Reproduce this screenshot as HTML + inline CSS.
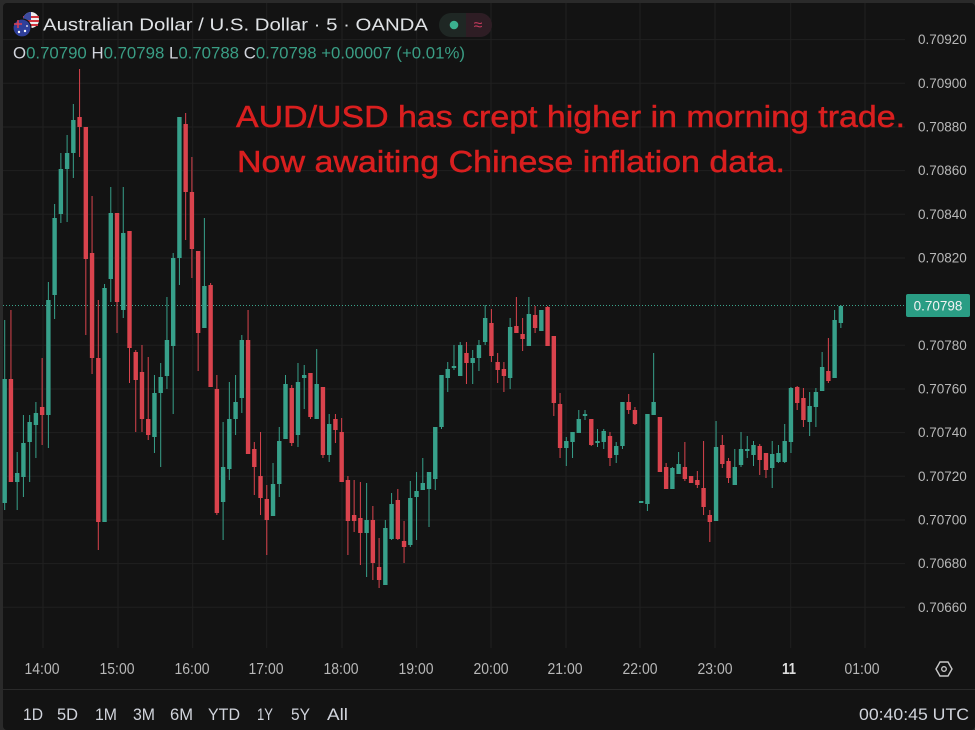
<!DOCTYPE html>
<html><head><meta charset="utf-8"><style>
html,body{margin:0;padding:0;background:#131313;}
svg{display:block;}
text{font-family:"Liberation Sans",sans-serif;}
.u rect{fill:#37a08a}
.d rect{fill:#d9434d}
</style></head><body>
<svg width="975" height="730" viewBox="0 0 975 730" xmlns="http://www.w3.org/2000/svg">
<rect x="0" y="0" width="975" height="730" fill="#2a2a2a"/>
<rect x="3" y="3" width="972" height="727" rx="4" fill="#131313"/>
<!-- vertical grid -->
<g stroke="#202020" stroke-width="1">
<line x1="43" y1="3" x2="43" y2="648"/><line x1="118" y1="3" x2="118" y2="648"/><line x1="192.7" y1="3" x2="192.7" y2="648"/><line x1="266.7" y1="3" x2="266.7" y2="648"/><line x1="342" y1="3" x2="342" y2="648"/><line x1="416.7" y1="3" x2="416.7" y2="648"/><line x1="491" y1="3" x2="491" y2="648"/><line x1="566" y1="3" x2="566" y2="648"/><line x1="640" y1="3" x2="640" y2="648"/><line x1="715" y1="3" x2="715" y2="648"/><line x1="790.7" y1="3" x2="790.7" y2="648"/><line x1="865" y1="3" x2="865" y2="648"/>
</g>
<!-- horizontal grid -->
<g stroke="#202020" stroke-width="1">
<line x1="3" y1="39.6" x2="905" y2="39.6"/><line x1="3" y1="83.3" x2="905" y2="83.3"/><line x1="3" y1="127" x2="905" y2="127"/><line x1="3" y1="170.6" x2="905" y2="170.6"/><line x1="3" y1="214.3" x2="905" y2="214.3"/><line x1="3" y1="258" x2="905" y2="258"/><line x1="3" y1="345.3" x2="905" y2="345.3"/><line x1="3" y1="389" x2="905" y2="389"/><line x1="3" y1="432.6" x2="905" y2="432.6"/><line x1="3" y1="476.3" x2="905" y2="476.3"/><line x1="3" y1="520" x2="905" y2="520"/><line x1="3" y1="563.6" x2="905" y2="563.6"/><line x1="3" y1="607.3" x2="905" y2="607.3"/>
</g>
<!-- current price line -->
<line x1="3" y1="305.5" x2="905" y2="305.5" stroke="#3aa58c" stroke-width="1" stroke-dasharray="1 2"/>

<!-- candles -->
<g>
<g class="u" transform="translate(4.7,0)"><rect x="-0.5" y="320" width="1" height="190"/><rect x="-2.2" y="379" width="4.4" height="124"/></g>
<g class="d" transform="translate(10.94,0)"><rect x="-0.5" y="310" width="1" height="172"/><rect x="-2.2" y="379" width="4.4" height="103"/></g>
<g class="u" transform="translate(17.18,0)"><rect x="-0.5" y="452" width="1" height="58"/><rect x="-2.2" y="473" width="4.4" height="9"/></g>
<g class="u" transform="translate(23.42,0)"><rect x="-0.5" y="415" width="1" height="82"/><rect x="-2.2" y="443" width="4.4" height="34"/></g>
<g class="u" transform="translate(29.66,0)"><rect x="-0.5" y="415" width="1" height="67"/><rect x="-2.2" y="422" width="4.4" height="20"/></g>
<g class="u" transform="translate(35.9,0)"><rect x="-0.5" y="402" width="1" height="56"/><rect x="-2.2" y="413" width="4.4" height="12"/></g>
<g class="d" transform="translate(42.14,0)"><rect x="-0.5" y="358" width="1" height="87"/><rect x="-2.2" y="407" width="4.4" height="8"/></g>
<g class="u" transform="translate(48.38,0)"><rect x="-0.5" y="282" width="1" height="166"/><rect x="-2.2" y="300" width="4.4" height="115"/></g>
<g class="u" transform="translate(54.62,0)"><rect x="-0.5" y="204" width="1" height="115"/><rect x="-2.2" y="218" width="4.4" height="77"/></g>
<g class="u" transform="translate(60.86,0)"><rect x="-0.5" y="153" width="1" height="70"/><rect x="-2.2" y="169" width="4.4" height="45"/></g>
<g class="u" transform="translate(67.1,0)"><rect x="-0.5" y="135" width="1" height="87"/><rect x="-2.2" y="153" width="4.4" height="16"/></g>
<g class="u" transform="translate(73.34,0)"><rect x="-0.5" y="104" width="1" height="74"/><rect x="-2.2" y="120" width="4.4" height="33"/></g>
<g class="d" transform="translate(79.58,0)"><rect x="-0.5" y="69" width="1" height="88"/><rect x="-2.2" y="117" width="4.4" height="10"/></g>
<g class="d" transform="translate(85.82,0)"><rect x="-0.5" y="127" width="1" height="208"/><rect x="-2.2" y="127" width="4.4" height="132"/></g>
<g class="d" transform="translate(92.06,0)"><rect x="-0.5" y="196" width="1" height="178"/><rect x="-2.2" y="253" width="4.4" height="105"/></g>
<g class="d" transform="translate(98.3,0)"><rect x="-0.5" y="300" width="1" height="250"/><rect x="-2.2" y="358" width="4.4" height="164"/></g>
<g class="u" transform="translate(104.54,0)"><rect x="-0.5" y="284" width="1" height="238"/><rect x="-2.2" y="288" width="4.4" height="234"/></g>
<g class="u" transform="translate(110.78,0)"><rect x="-0.5" y="187" width="1" height="115"/><rect x="-2.2" y="213" width="4.4" height="66"/></g>
<g class="d" transform="translate(117.02,0)"><rect x="-0.5" y="213" width="1" height="120"/><rect x="-2.2" y="213" width="4.4" height="89"/></g>
<g class="u" transform="translate(123.26,0)"><rect x="-0.5" y="187" width="1" height="131"/><rect x="-2.2" y="233" width="4.4" height="77"/></g>
<g class="d" transform="translate(129.5,0)"><rect x="-0.5" y="231" width="1" height="152"/><rect x="-2.2" y="231" width="4.4" height="117"/></g>
<g class="d" transform="translate(135.74,0)"><rect x="-0.5" y="350" width="1" height="82"/><rect x="-2.2" y="352" width="4.4" height="28"/></g>
<g class="d" transform="translate(141.98,0)"><rect x="-0.5" y="345" width="1" height="87"/><rect x="-2.2" y="372" width="4.4" height="47"/></g>
<g class="d" transform="translate(148.22,0)"><rect x="-0.5" y="357" width="1" height="83"/><rect x="-2.2" y="419" width="4.4" height="16"/></g>
<g class="u" transform="translate(154.46,0)"><rect x="-0.5" y="375" width="1" height="78"/><rect x="-2.2" y="393" width="4.4" height="44"/></g>
<g class="u" transform="translate(160.7,0)"><rect x="-0.5" y="363" width="1" height="104"/><rect x="-2.2" y="377" width="4.4" height="16"/></g>
<g class="u" transform="translate(166.94,0)"><rect x="-0.5" y="297" width="1" height="92"/><rect x="-2.2" y="340" width="4.4" height="36"/></g>
<g class="u" transform="translate(173.18,0)"><rect x="-0.5" y="253" width="1" height="161"/><rect x="-2.2" y="258" width="4.4" height="88"/></g>
<g class="u" transform="translate(179.42,0)"><rect x="-0.5" y="117" width="1" height="168"/><rect x="-2.2" y="117" width="4.4" height="141"/></g>
<g class="d" transform="translate(185.66,0)"><rect x="-0.5" y="113" width="1" height="127"/><rect x="-2.2" y="124" width="4.4" height="68"/></g>
<g class="d" transform="translate(191.9,0)"><rect x="-0.5" y="157" width="1" height="121"/><rect x="-2.2" y="192" width="4.4" height="57"/></g>
<g class="d" transform="translate(198.14,0)"><rect x="-0.5" y="251" width="1" height="120"/><rect x="-2.2" y="251" width="4.4" height="82"/></g>
<g class="u" transform="translate(204.38,0)"><rect x="-0.5" y="218" width="1" height="110"/><rect x="-2.2" y="286" width="4.4" height="42"/></g>
<g class="d" transform="translate(210.62,0)"><rect x="-0.5" y="283" width="1" height="104"/><rect x="-2.2" y="285" width="4.4" height="102"/></g>
<g class="d" transform="translate(216.86,0)"><rect x="-0.5" y="375" width="1" height="140"/><rect x="-2.2" y="389" width="4.4" height="124"/></g>
<g class="u" transform="translate(223.1,0)"><rect x="-0.5" y="422" width="1" height="118"/><rect x="-2.2" y="467" width="4.4" height="35"/></g>
<g class="u" transform="translate(229.34,0)"><rect x="-0.5" y="382" width="1" height="98"/><rect x="-2.2" y="419" width="4.4" height="50"/></g>
<g class="u" transform="translate(235.58,0)"><rect x="-0.5" y="375" width="1" height="60"/><rect x="-2.2" y="402" width="4.4" height="17"/></g>
<g class="u" transform="translate(241.82,0)"><rect x="-0.5" y="335" width="1" height="78"/><rect x="-2.2" y="340" width="4.4" height="58"/></g>
<g class="d" transform="translate(248.06,0)"><rect x="-0.5" y="310" width="1" height="144"/><rect x="-2.2" y="340" width="4.4" height="114"/></g>
<g class="d" transform="translate(254.3,0)"><rect x="-0.5" y="442" width="1" height="53"/><rect x="-2.2" y="449" width="4.4" height="18"/></g>
<g class="d" transform="translate(260.54,0)"><rect x="-0.5" y="432" width="1" height="83"/><rect x="-2.2" y="476" width="4.4" height="22"/></g>
<g class="d" transform="translate(266.78,0)"><rect x="-0.5" y="485" width="1" height="70"/><rect x="-2.2" y="499" width="4.4" height="21"/></g>
<g class="u" transform="translate(273.02,0)"><rect x="-0.5" y="463" width="1" height="53"/><rect x="-2.2" y="484" width="4.4" height="32"/></g>
<g class="u" transform="translate(279.26,0)"><rect x="-0.5" y="427" width="1" height="70"/><rect x="-2.2" y="441" width="4.4" height="43"/></g>
<g class="u" transform="translate(285.5,0)"><rect x="-0.5" y="375" width="1" height="64"/><rect x="-2.2" y="384" width="4.4" height="55"/></g>
<g class="d" transform="translate(291.74,0)"><rect x="-0.5" y="385" width="1" height="61"/><rect x="-2.2" y="388" width="4.4" height="55"/></g>
<g class="u" transform="translate(297.98,0)"><rect x="-0.5" y="363" width="1" height="84"/><rect x="-2.2" y="382" width="4.4" height="53"/></g>
<g class="u" transform="translate(304.22,0)"><rect x="-0.5" y="365" width="1" height="44"/><rect x="-2.2" y="375" width="4.4" height="3"/></g>
<g class="d" transform="translate(310.46,0)"><rect x="-0.5" y="373" width="1" height="46"/><rect x="-2.2" y="373" width="4.4" height="44"/></g>
<g class="u" transform="translate(316.7,0)"><rect x="-0.5" y="349" width="1" height="70"/><rect x="-2.2" y="384" width="4.4" height="35"/></g>
<g class="d" transform="translate(322.94,0)"><rect x="-0.5" y="387" width="1" height="71"/><rect x="-2.2" y="387" width="4.4" height="68"/></g>
<g class="u" transform="translate(329.18,0)"><rect x="-0.5" y="414" width="1" height="48"/><rect x="-2.2" y="424" width="4.4" height="31"/></g>
<g class="d" transform="translate(335.42,0)"><rect x="-0.5" y="414" width="1" height="29"/><rect x="-2.2" y="419" width="4.4" height="11"/></g>
<g class="d" transform="translate(341.66,0)"><rect x="-0.5" y="418" width="1" height="64"/><rect x="-2.2" y="432" width="4.4" height="50"/></g>
<g class="d" transform="translate(347.9,0)"><rect x="-0.5" y="476" width="1" height="79"/><rect x="-2.2" y="480" width="4.4" height="41"/></g>
<g class="d" transform="translate(354.14,0)"><rect x="-0.5" y="480" width="1" height="52"/><rect x="-2.2" y="515" width="4.4" height="6"/></g>
<g class="d" transform="translate(360.38,0)"><rect x="-0.5" y="482" width="1" height="83"/><rect x="-2.2" y="518" width="4.4" height="15"/></g>
<g class="u" transform="translate(366.62,0)"><rect x="-0.5" y="483" width="1" height="94"/><rect x="-2.2" y="520" width="4.4" height="13"/></g>
<g class="d" transform="translate(372.86,0)"><rect x="-0.5" y="506" width="1" height="74"/><rect x="-2.2" y="520" width="4.4" height="43"/></g>
<g class="d" transform="translate(379.1,0)"><rect x="-0.5" y="538" width="1" height="50"/><rect x="-2.2" y="567" width="4.4" height="13"/></g>
<g class="u" transform="translate(385.34,0)"><rect x="-0.5" y="520" width="1" height="65"/><rect x="-2.2" y="528" width="4.4" height="57"/></g>
<g class="u" transform="translate(391.58,0)"><rect x="-0.5" y="493" width="1" height="47"/><rect x="-2.2" y="504" width="4.4" height="35"/></g>
<g class="d" transform="translate(397.82,0)"><rect x="-0.5" y="489" width="1" height="51"/><rect x="-2.2" y="500" width="4.4" height="39"/></g>
<g class="d" transform="translate(404.06,0)"><rect x="-0.5" y="521" width="1" height="42"/><rect x="-2.2" y="541" width="4.4" height="6"/></g>
<g class="u" transform="translate(410.3,0)"><rect x="-0.5" y="481" width="1" height="66"/><rect x="-2.2" y="498" width="4.4" height="47"/></g>
<g class="u" transform="translate(416.54,0)"><rect x="-0.5" y="472" width="1" height="68"/><rect x="-2.2" y="491" width="4.4" height="6"/></g>
<g class="u" transform="translate(422.78,0)"><rect x="-0.5" y="458" width="1" height="32"/><rect x="-2.2" y="483" width="4.4" height="7"/></g>
<g class="u" transform="translate(429.02,0)"><rect x="-0.5" y="472" width="1" height="55"/><rect x="-2.2" y="472" width="4.4" height="17"/></g>
<g class="u" transform="translate(435.26,0)"><rect x="-0.5" y="427" width="1" height="63"/><rect x="-2.2" y="427" width="4.4" height="52"/></g>
<g class="u" transform="translate(441.5,0)"><rect x="-0.5" y="375" width="1" height="54"/><rect x="-2.2" y="375" width="4.4" height="52"/></g>
<g class="u" transform="translate(447.74,0)"><rect x="-0.5" y="362" width="1" height="30"/><rect x="-2.2" y="369" width="4.4" height="9"/></g>
<g class="u" transform="translate(453.98,0)"><rect x="-0.5" y="345" width="1" height="25"/><rect x="-2.2" y="366" width="4.4" height="2"/></g>
<g class="u" transform="translate(460.22,0)"><rect x="-0.5" y="342" width="1" height="34"/><rect x="-2.2" y="345" width="4.4" height="31"/></g>
<g class="d" transform="translate(466.46,0)"><rect x="-0.5" y="342" width="1" height="42"/><rect x="-2.2" y="353" width="4.4" height="10"/></g>
<g class="u" transform="translate(472.7,0)"><rect x="-0.5" y="350" width="1" height="34"/><rect x="-2.2" y="358" width="4.4" height="5"/></g>
<g class="u" transform="translate(478.94,0)"><rect x="-0.5" y="340" width="1" height="31"/><rect x="-2.2" y="345" width="4.4" height="13"/></g>
<g class="u" transform="translate(485.18,0)"><rect x="-0.5" y="305" width="1" height="40"/><rect x="-2.2" y="318" width="4.4" height="24"/></g>
<g class="d" transform="translate(491.42,0)"><rect x="-0.5" y="309" width="1" height="53"/><rect x="-2.2" y="323" width="4.4" height="33"/></g>
<g class="d" transform="translate(497.66,0)"><rect x="-0.5" y="353" width="1" height="30"/><rect x="-2.2" y="362" width="4.4" height="8"/></g>
<g class="d" transform="translate(503.9,0)"><rect x="-0.5" y="362" width="1" height="30"/><rect x="-2.2" y="369" width="4.4" height="7"/></g>
<g class="u" transform="translate(510.14,0)"><rect x="-0.5" y="318" width="1" height="71"/><rect x="-2.2" y="327" width="4.4" height="51"/></g>
<g class="d" transform="translate(516.38,0)"><rect x="-0.5" y="297" width="1" height="36"/><rect x="-2.2" y="326" width="4.4" height="7"/></g>
<g class="d" transform="translate(522.62,0)"><rect x="-0.5" y="318" width="1" height="33"/><rect x="-2.2" y="334" width="4.4" height="5"/></g>
<g class="u" transform="translate(528.86,0)"><rect x="-0.5" y="297" width="1" height="49"/><rect x="-2.2" y="314" width="4.4" height="32"/></g>
<g class="d" transform="translate(535.1,0)"><rect x="-0.5" y="306" width="1" height="27"/><rect x="-2.2" y="315" width="4.4" height="13"/></g>
<g class="u" transform="translate(541.34,0)"><rect x="-0.5" y="310" width="1" height="21"/><rect x="-2.2" y="310" width="4.4" height="21"/></g>
<g class="d" transform="translate(547.58,0)"><rect x="-0.5" y="306" width="1" height="40"/><rect x="-2.2" y="307" width="4.4" height="39"/></g>
<g class="d" transform="translate(553.82,0)"><rect x="-0.5" y="336" width="1" height="80"/><rect x="-2.2" y="336" width="4.4" height="67"/></g>
<g class="d" transform="translate(560.06,0)"><rect x="-0.5" y="393" width="1" height="65"/><rect x="-2.2" y="404" width="4.4" height="44"/></g>
<g class="u" transform="translate(566.3,0)"><rect x="-0.5" y="437" width="1" height="29"/><rect x="-2.2" y="441" width="4.4" height="7"/></g>
<g class="u" transform="translate(572.54,0)"><rect x="-0.5" y="432" width="1" height="26"/><rect x="-2.2" y="432" width="4.4" height="10"/></g>
<g class="u" transform="translate(578.78,0)"><rect x="-0.5" y="410" width="1" height="23"/><rect x="-2.2" y="419" width="4.4" height="14"/></g>
<g class="u" transform="translate(585.02,0)"><rect x="-0.5" y="410" width="1" height="10"/><rect x="-2.2" y="414" width="4.4" height="2"/></g>
<g class="d" transform="translate(591.26,0)"><rect x="-0.5" y="419" width="1" height="27"/><rect x="-2.2" y="419" width="4.4" height="26"/></g>
<g class="u" transform="translate(597.5,0)"><rect x="-0.5" y="429" width="1" height="18"/><rect x="-2.2" y="441" width="4.4" height="2"/></g>
<g class="u" transform="translate(603.74,0)"><rect x="-0.5" y="429" width="1" height="20"/><rect x="-2.2" y="431" width="4.4" height="11"/></g>
<g class="d" transform="translate(609.98,0)"><rect x="-0.5" y="432" width="1" height="34"/><rect x="-2.2" y="436" width="4.4" height="22"/></g>
<g class="u" transform="translate(616.22,0)"><rect x="-0.5" y="442" width="1" height="21"/><rect x="-2.2" y="446" width="4.4" height="9"/></g>
<g class="u" transform="translate(622.46,0)"><rect x="-0.5" y="402" width="1" height="47"/><rect x="-2.2" y="402" width="4.4" height="44"/></g>
<g class="d" transform="translate(628.7,0)"><rect x="-0.5" y="394" width="1" height="20"/><rect x="-2.2" y="402" width="4.4" height="8"/></g>
<g class="d" transform="translate(634.94,0)"><rect x="-0.5" y="407" width="1" height="18"/><rect x="-2.2" y="410" width="4.4" height="14"/></g>
<g class="u" transform="translate(641.18,0)"><rect x="-0.5" y="501" width="1" height="2"/><rect x="-2.2" y="501" width="4.4" height="2"/></g>
<g class="u" transform="translate(647.42,0)"><rect x="-0.5" y="414" width="1" height="97"/><rect x="-2.2" y="414" width="4.4" height="90"/></g>
<g class="u" transform="translate(653.66,0)"><rect x="-0.5" y="353" width="1" height="62"/><rect x="-2.2" y="402" width="4.4" height="13"/></g>
<g class="d" transform="translate(659.9,0)"><rect x="-0.5" y="417" width="1" height="55"/><rect x="-2.2" y="417" width="4.4" height="55"/></g>
<g class="d" transform="translate(666.14,0)"><rect x="-0.5" y="463" width="1" height="26"/><rect x="-2.2" y="467" width="4.4" height="22"/></g>
<g class="u" transform="translate(672.38,0)"><rect x="-0.5" y="467" width="1" height="22"/><rect x="-2.2" y="468" width="4.4" height="21"/></g>
<g class="u" transform="translate(678.62,0)"><rect x="-0.5" y="452" width="1" height="22"/><rect x="-2.2" y="464" width="4.4" height="10"/></g>
<g class="d" transform="translate(684.86,0)"><rect x="-0.5" y="442" width="1" height="39"/><rect x="-2.2" y="467" width="4.4" height="12"/></g>
<g class="d" transform="translate(691.1,0)"><rect x="-0.5" y="476" width="1" height="7"/><rect x="-2.2" y="476" width="4.4" height="7"/></g>
<g class="d" transform="translate(697.34,0)"><rect x="-0.5" y="471" width="1" height="17"/><rect x="-2.2" y="480" width="4.4" height="5"/></g>
<g class="d" transform="translate(703.58,0)"><rect x="-0.5" y="441" width="1" height="74"/><rect x="-2.2" y="488" width="4.4" height="19"/></g>
<g class="d" transform="translate(709.82,0)"><rect x="-0.5" y="510" width="1" height="32"/><rect x="-2.2" y="515" width="4.4" height="7"/></g>
<g class="u" transform="translate(716.06,0)"><rect x="-0.5" y="421" width="1" height="100"/><rect x="-2.2" y="447" width="4.4" height="74"/></g>
<g class="d" transform="translate(722.3,0)"><rect x="-0.5" y="435" width="1" height="33"/><rect x="-2.2" y="445" width="4.4" height="19"/></g>
<g class="d" transform="translate(728.54,0)"><rect x="-0.5" y="458" width="1" height="25"/><rect x="-2.2" y="461" width="4.4" height="17"/></g>
<g class="u" transform="translate(734.78,0)"><rect x="-0.5" y="449" width="1" height="36"/><rect x="-2.2" y="467" width="4.4" height="18"/></g>
<g class="u" transform="translate(741.02,0)"><rect x="-0.5" y="432" width="1" height="35"/><rect x="-2.2" y="449" width="4.4" height="16"/></g>
<g class="u" transform="translate(747.26,0)"><rect x="-0.5" y="436" width="1" height="22"/><rect x="-2.2" y="449" width="4.4" height="2"/></g>
<g class="u" transform="translate(753.5,0)"><rect x="-0.5" y="441" width="1" height="25"/><rect x="-2.2" y="445" width="4.4" height="10"/></g>
<g class="d" transform="translate(759.74,0)"><rect x="-0.5" y="444" width="1" height="31"/><rect x="-2.2" y="446" width="4.4" height="14"/></g>
<g class="d" transform="translate(765.98,0)"><rect x="-0.5" y="453" width="1" height="25"/><rect x="-2.2" y="453" width="4.4" height="17"/></g>
<g class="u" transform="translate(772.22,0)"><rect x="-0.5" y="441" width="1" height="47"/><rect x="-2.2" y="454" width="4.4" height="14"/></g>
<g class="u" transform="translate(778.46,0)"><rect x="-0.5" y="445" width="1" height="18"/><rect x="-2.2" y="453" width="4.4" height="9"/></g>
<g class="u" transform="translate(784.7,0)"><rect x="-0.5" y="424" width="1" height="39"/><rect x="-2.2" y="441" width="4.4" height="21"/></g>
<g class="u" transform="translate(790.94,0)"><rect x="-0.5" y="387" width="1" height="66"/><rect x="-2.2" y="388" width="4.4" height="54"/></g>
<g class="d" transform="translate(797.18,0)"><rect x="-0.5" y="386" width="1" height="24"/><rect x="-2.2" y="387" width="4.4" height="16"/></g>
<g class="d" transform="translate(803.42,0)"><rect x="-0.5" y="388" width="1" height="39"/><rect x="-2.2" y="398" width="4.4" height="22"/></g>
<g class="u" transform="translate(809.66,0)"><rect x="-0.5" y="392" width="1" height="44"/><rect x="-2.2" y="406" width="4.4" height="16"/></g>
<g class="u" transform="translate(815.9,0)"><rect x="-0.5" y="388" width="1" height="39"/><rect x="-2.2" y="392" width="4.4" height="15"/></g>
<g class="u" transform="translate(822.14,0)"><rect x="-0.5" y="352" width="1" height="39"/><rect x="-2.2" y="367" width="4.4" height="24"/></g>
<g class="d" transform="translate(828.38,0)"><rect x="-0.5" y="338" width="1" height="45"/><rect x="-2.2" y="371" width="4.4" height="10"/></g>
<g class="u" transform="translate(834.62,0)"><rect x="-0.5" y="310" width="1" height="68"/><rect x="-2.2" y="320" width="4.4" height="58"/></g>
<g class="u" transform="translate(840.86,0)"><rect x="-0.5" y="305" width="1" height="23"/><rect x="-2.2" y="306" width="4.4" height="17"/></g>
</g>

<!-- annotation -->
<text x="236" y="127" font-size="31" fill="#d91f1f" stroke="#d91f1f" stroke-width="0.5" textLength="669" lengthAdjust="spacingAndGlyphs">AUD/USD has crept higher in morning trade.</text>
<text x="237" y="172" font-size="31" fill="#d91f1f" stroke="#d91f1f" stroke-width="0.5" textLength="548" lengthAdjust="spacingAndGlyphs">Now awaiting Chinese inflation data.</text>

<!-- header -->
<g>
<circle cx="31" cy="20" r="8" fill="#eeeeee"/>
<path d="M23 17h16M23 21h16M24 25h14" stroke="#d0343e" stroke-width="2"/>
<path d="M31 12a8 8 0 0 0 -8 8h8z" fill="#3c4aa0"/>
<circle cx="22" cy="28" r="9" fill="#2f3f9a" stroke="#131313" stroke-width="1.2"/>
<path d="M14 24h8M18 20v8" stroke="#e04050" stroke-width="1.5"/>
<circle cx="25" cy="31" r="1.2" fill="#fff"/><circle cx="19" cy="32" r="1.2" fill="#fff"/><circle cx="27" cy="26" r="0.9" fill="#fff"/>
</g>
<text x="43" y="30.7" font-size="17.5" fill="#e0e3e6" textLength="385" lengthAdjust="spacingAndGlyphs">Australian Dollar / U.S. Dollar · 5 · OANDA</text>
<rect x="439" y="13" width="53" height="24" rx="12" fill="#1f2724"/>
<path d="M466 13h14a12 12 0 0 1 0 24h-14z" fill="#2e1d24"/>
<circle cx="454" cy="25" r="4.3" fill="#3bb08f"/>
<text x="478" y="30" font-size="16" fill="#c23a5c" text-anchor="middle">≈</text>

<text x="13" y="58.3" font-size="17" fill="#3a9e85" textLength="452" lengthAdjust="spacingAndGlyphs"><tspan fill="#d1d4dc">O</tspan>0.70790 <tspan fill="#d1d4dc">H</tspan>0.70798 <tspan fill="#d1d4dc">L</tspan>0.70788 <tspan fill="#d1d4dc">C</tspan>0.70798 +0.00007 (+0.01%)</text>

<!-- price axis -->
<g font-size="13.5" fill="#b8b8b8">
<text x="918" y="44.1">0.70920</text>
<text x="918" y="87.8">0.70900</text>
<text x="918" y="131.5">0.70880</text>
<text x="918" y="175.1">0.70860</text>
<text x="918" y="218.8">0.70840</text>
<text x="918" y="262.5">0.70820</text>
<text x="918" y="349.8">0.70780</text>
<text x="918" y="393.5">0.70760</text>
<text x="918" y="437.1">0.70740</text>
<text x="918" y="480.8">0.70720</text>
<text x="918" y="524.5">0.70700</text>
<text x="918" y="568.1">0.70680</text>
<text x="918" y="611.8">0.70660</text>
</g>
<rect x="906" y="294" width="64" height="23" rx="2" fill="#2a9d84"/>
<text x="938" y="310.5" font-size="13.5" fill="#f2f2f2" text-anchor="middle">0.70798</text>

<!-- time axis -->
<g font-size="16" fill="#b8b8b8" text-anchor="middle">
<text x="42" y="674" textLength="35" lengthAdjust="spacingAndGlyphs">14:00</text>
<text x="117" y="674" textLength="35" lengthAdjust="spacingAndGlyphs">15:00</text>
<text x="192" y="674" textLength="35" lengthAdjust="spacingAndGlyphs">16:00</text>
<text x="266" y="674" textLength="35" lengthAdjust="spacingAndGlyphs">17:00</text>
<text x="341" y="674" textLength="35" lengthAdjust="spacingAndGlyphs">18:00</text>
<text x="416" y="674" textLength="35" lengthAdjust="spacingAndGlyphs">19:00</text>
<text x="491" y="674" textLength="35" lengthAdjust="spacingAndGlyphs">20:00</text>
<text x="565" y="674" textLength="35" lengthAdjust="spacingAndGlyphs">21:00</text>
<text x="640" y="674" textLength="35" lengthAdjust="spacingAndGlyphs">22:00</text>
<text x="715" y="674" textLength="35" lengthAdjust="spacingAndGlyphs">23:00</text>
<text x="789" y="674" font-weight="bold" fill="#dddddd" textLength="14" lengthAdjust="spacingAndGlyphs">11</text>
<text x="862" y="674" textLength="35" lengthAdjust="spacingAndGlyphs">01:00</text>
</g>
<polygon points="936,669 940,662 948,662 952,669 948,676 940,676" fill="none" stroke="#c8c8c8" stroke-width="1.4"/>
<circle cx="944" cy="669" r="2.3" fill="none" stroke="#c8c8c8" stroke-width="1.3"/>

<line x1="3" y1="689.5" x2="975" y2="689.5" stroke="#2a2a2a" stroke-width="1"/>

<!-- range bar -->
<g font-size="17" fill="#d1d4dc">
<text x="23" y="720" textLength="20" lengthAdjust="spacingAndGlyphs">1D</text>
<text x="57" y="720" textLength="21" lengthAdjust="spacingAndGlyphs">5D</text>
<text x="95" y="720" textLength="22" lengthAdjust="spacingAndGlyphs">1M</text>
<text x="133" y="720" textLength="22" lengthAdjust="spacingAndGlyphs">3M</text>
<text x="170" y="720" textLength="23" lengthAdjust="spacingAndGlyphs">6M</text>
<text x="208" y="720" textLength="32" lengthAdjust="spacingAndGlyphs">YTD</text>
<text x="257" y="720" textLength="16" lengthAdjust="spacingAndGlyphs">1Y</text>
<text x="291" y="720" textLength="19" lengthAdjust="spacingAndGlyphs">5Y</text>
<text x="327" y="720" textLength="21" lengthAdjust="spacingAndGlyphs">All</text>
<text x="969" y="720" text-anchor="end" textLength="110" lengthAdjust="spacingAndGlyphs">00:40:45 UTC</text>
</g>
</svg>
</body></html>
